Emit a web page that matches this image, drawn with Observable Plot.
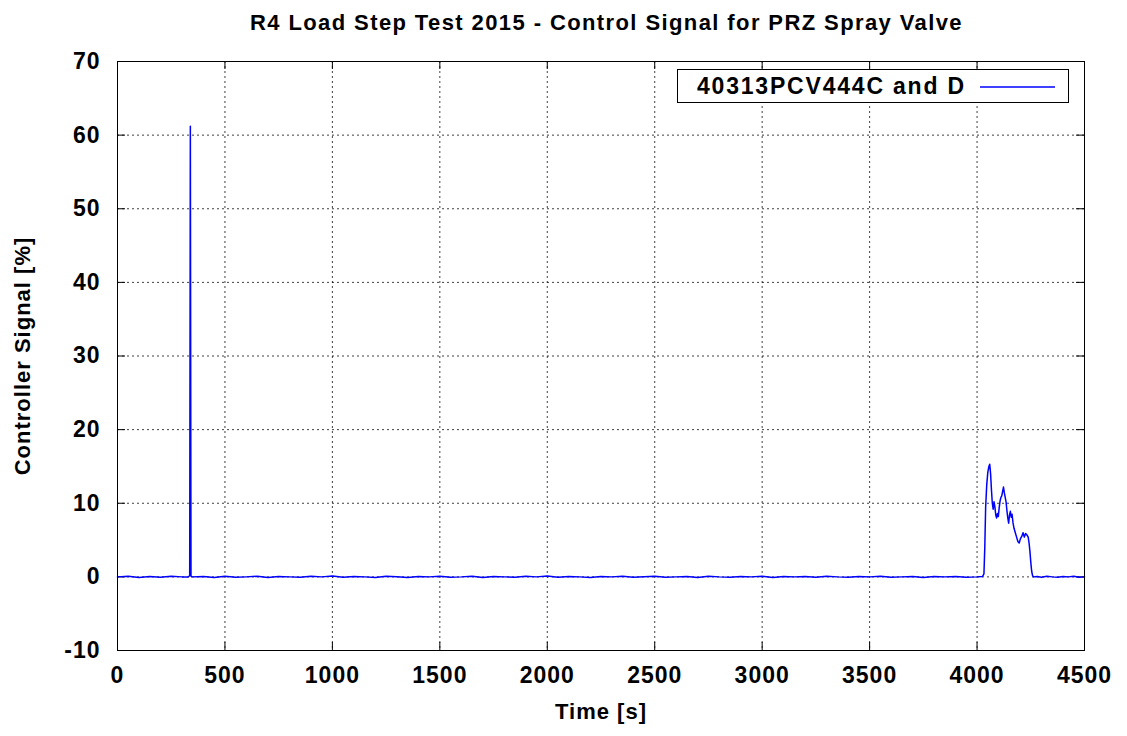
<!DOCTYPE html>
<html><head><meta charset="utf-8">
<script src="https://cdn.jsdelivr.net/npm/d3@7"></script>
<script src="https://cdn.jsdelivr.net/npm/@observablehq/plot@0.6"></script>
<style>
body{margin:0;background:#fff;font-family:"Liberation Sans",Arial,sans-serif;}
#wrap{position:relative;width:1127px;height:736px;}
#title{height:40px;padding-left:86px;text-align:center;font-size:22px;font-weight:bold;letter-spacing:1.4px;line-height:45px;color:#000;}
#legend{position:absolute;left:677px;top:69px;width:390px;height:32px;border:1px solid #000;background:#fff;}
#legend span{position:absolute;left:19px;top:3px;font-size:23px;font-weight:bold;letter-spacing:1.8px;line-height:26px;color:#000;}
#legend svg{position:absolute;left:302px;top:0;}
</style></head><body>
<div id="wrap">
<div id="title">R4 Load Step Test 2015 - Control Signal for PRZ Spray Valve</div>
<div id="chart"></div>
<div id="legend"><span>40313PCV444C and D</span><svg width="80" height="32"><line x1="0" y1="17" x2="75" y2="17" stroke="#0000ff" stroke-width="1.3"/></svg></div>
</div>
<script>
const seriesName = "40313PCV444C and D";
const xTicks = [0,500,1000,1500,2000,2500,3000,3500,4000,4500];
const yTicks = [-10,0,10,20,30,40,50,60,70];

const time = [
  0,50,100,150,200,250,300,330,336,339,342,346,
  400,450,500,550,600,650,700,750,800,850,900,950,1000,1050,1100,1150,1200,1250,1300,1350,1400,1450,1500,
  1550,1600,1650,1700,1750,1800,1850,1900,1950,2000,2050,2100,2150,2200,2250,2300,2350,2400,2450,2500,
  2550,2600,2650,2700,2750,2800,2850,2900,2950,3000,3050,3100,3150,3200,3250,3300,3350,3400,3450,3500,
  3550,3600,3650,3700,3750,3800,3850,3900,3950,4000,4025,
  4032,4036,4040,4045,4050,4055,4059,4063,4067,4071,4075,4079,4083,4087,4091,4095,4099,4103,4107,4111,
  4115,4119,4123,4127,4131,4135,4139,4143,4147,4151,4155,4159,4163,4167,4172,4178,4184,4190,4196,4202,
  4208,4214,4220,4226,4232,4238,4242,4246,4250,4254,4258,4262,
  4280,4300,4325,4350,4375,4400,4425,4450,4475,4500
];
const signal = [
  0.0,0.1,-0.1,0.05,-0.05,0.1,0.0,0.0,0.2,61.2,0.1,0.0,
  0.05,-0.08,0.1,-0.05,0.0,0.08,-0.1,0.05,0.0,-0.06,0.1,0.0,0.12,-0.05,0.06,0.0,-0.08,0.1,0.02,-0.1,0.05,0.0,0.08,
  -0.05,0.0,0.1,-0.08,0.04,0.0,-0.05,0.08,0.0,0.12,-0.06,0.05,0.0,-0.1,0.06,0.0,0.08,-0.04,0.02,0.1,
  -0.06,0.0,0.05,-0.08,0.1,0.0,-0.05,0.06,0.0,0.08,-0.1,0.04,0.0,0.06,-0.06,0.1,0.0,-0.04,0.05,0.0,
  0.08,-0.06,0.0,0.05,-0.1,0.04,0.0,0.06,-0.05,0.0,0.05,
  0.4,4.0,9.5,12.5,14.2,15.0,15.3,14.0,11.8,10.0,9.2,10.2,9.5,8.4,8.0,8.6,8.2,9.4,10.3,10.8,
  11.0,11.6,12.2,11.4,10.8,10.2,9.0,8.0,7.3,8.4,8.9,8.1,8.5,7.4,6.6,6.0,5.4,4.8,4.6,5.2,
  5.5,6.0,5.4,5.9,5.7,5.4,4.6,3.5,2.0,0.8,0.2,0.0,
  0.05,-0.05,0.08,0.0,-0.06,0.05,0.0,0.08,-0.04,0.0
];
const data = time.map((t, i) => ({t, v: signal[i]}));

const chart = Plot.plot({
  width: 1127,
  height: 696,
  marginTop: 21,
  marginBottom: 86,
  marginLeft: 117,
  marginRight: 43,
  style: {fontFamily: "Liberation Sans, Arial, sans-serif", fontWeight: "bold", letterSpacing: "1px", color: "#000", background: "#fff"},
  x: {domain: [0, 4500]},
  y: {domain: [-10, 70]},
  marks: [
    Plot.ruleX(xTicks, {stroke: "#000", strokeOpacity: 0.75, strokeDasharray: "2,3"}),
    Plot.ruleY(yTicks, {stroke: "#000", strokeOpacity: 0.75, strokeDasharray: "2,3"}),
    Plot.ruleX(xTicks, {y1: -10, y2: -10, insetBottom: 8, stroke: "#000"}),
    Plot.ruleX(xTicks, {y1: 70, y2: 70, insetTop: 8, stroke: "#000"}),
    Plot.ruleY(yTicks, {x1: 0, x2: 0, insetLeft: 8, stroke: "#000"}),
    Plot.ruleY(yTicks, {x1: 4500, x2: 4500, insetRight: 8, stroke: "#000"}),
    Plot.line(data, {x: "t", y: "v", stroke: "#0000ff", strokeWidth: 1.5}),
    Plot.frame({stroke: "#000", strokeWidth: 1}),
    Plot.axisX({ticks: xTicks, tickSize: 0, tickPadding: 16, fontSize: 23, tickFormat: d => String(d), label: null}),
    Plot.axisY({ticks: yTicks, tickSize: 0, tickPadding: 17, fontSize: 23, tickFormat: d => String(d), label: null}),
    Plot.text(["Time [s]"], {frameAnchor: "bottom", dy: 68, fontSize: 22}),
    Plot.text(["Controller Signal [%]"], {frameAnchor: "left", textAnchor: "middle", dx: -95, rotate: -90, fontSize: 22})
  ]
});
document.getElementById("chart").appendChild(chart);
</script>
</body></html>
